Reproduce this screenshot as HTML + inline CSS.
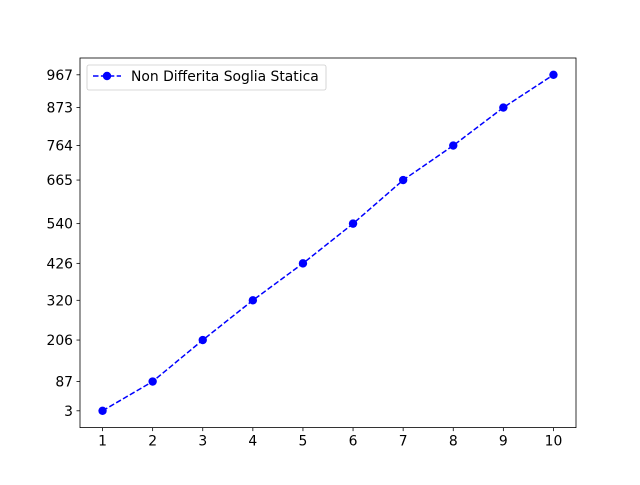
<!DOCTYPE html>
<html><head><meta charset="utf-8"><style>
body{margin:0;background:#fff}
text{font-family:"DejaVu Sans","Liberation Sans",sans-serif;font-size:13.9px;fill:#000}
</style></head><body>
<svg id="chart" width="640" height="480" xmlns="http://www.w3.org/2000/svg">
<rect width="640" height="480" fill="#fff"/>
<g id="plot"></g>
</svg>
<script>
const categories=[1,2,3,4,5,6,7,8,9,10];
const values=[3,87,206,320,426,540,665,764,873,967];
const yTicks=[3,87,206,320,426,540,665,764,873,967];
const seriesName="Non Differita Soglia Statica";
const L=80,R=576,T=58,B=427.6;
const xmin=0.55,xmax=10.45,ymin=3-0.05*964,ymax=967+0.05*964;
const xs=v=>L+(v-xmin)/(xmax-xmin)*(R-L);
const ys=v=>B-(v-ymin)/(ymax-ymin)*(B-T);
const NS="http://www.w3.org/2000/svg";
const g=document.getElementById('plot');
function mk(t,a,p){const e=document.createElementNS(NS,t);for(const k in a)e.setAttribute(k,a[k]);(p||g).appendChild(e);return e;}
categories.forEach(c=>{
 const x=xs(c);
 const tk=mk('line',{x1:x,x2:x,y1:B,y2:B+3.5,stroke:'#000','stroke-width':0.8});
 
 
 const t=mk('text',{x:x,y:B+18,'text-anchor':'middle'});t.textContent=c;
 
 
});
yTicks.forEach(v=>{
 const y=ys(v);
 const tk=mk('line',{x1:L-3.5,x2:L,y1:y,y2:y,stroke:'#000','stroke-width':0.8});
 
 
 const t=mk('text',{x:L-7,y:y+5,'text-anchor':'end'});t.textContent=v;
 
 
});
const pts=categories.map((c,i)=>xs(c)+','+ys(values[i])).join(' ');
const line=mk('polyline',{points:pts,fill:'none',stroke:'#0000ff','stroke-width':1.5,'stroke-dasharray':'5.5,2.4'});


categories.forEach((c,i)=>{
 const p=mk('circle',{cx:xs(c),cy:ys(values[i]),r:4.2,fill:'#0000ff'});
 
 
});
const fr=mk('rect',{x:L,y:T,width:R-L,height:B-T,fill:'none',stroke:'#000','stroke-width':0.8});


const lg=mk('g',{});


mk('rect',{x:87,y:65,width:239,height:25,rx:2,fill:'#fff','fill-opacity':0.8,stroke:'#ccc','stroke-width':0.8},lg);
mk('line',{x1:93,x2:121,y1:76,y2:76,stroke:'#0000ff','stroke-width':1.5,'stroke-dasharray':'5.5,2.4'},lg);
mk('circle',{cx:107,cy:76,r:4.2,fill:'#0000ff'},lg);
const lt=mk('text',{x:131,y:81},lg);lt.textContent=seriesName;


</script>
</body></html>
